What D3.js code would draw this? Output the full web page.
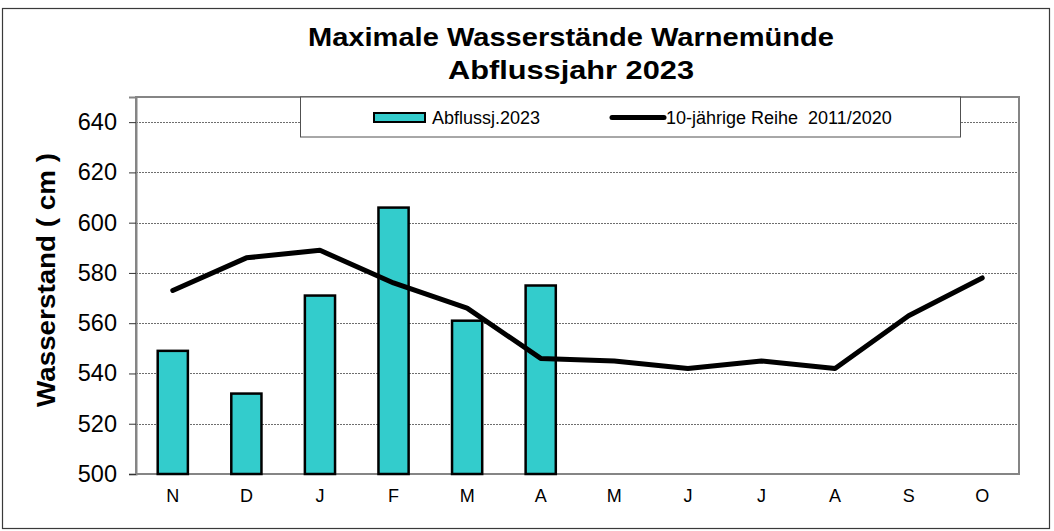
<!DOCTYPE html>
<html>
<head>
<meta charset="utf-8">
<script src="https://cdn.jsdelivr.net/npm/d3@7"></script>
<style>
  body { margin: 0; background: #fff; }
  svg { display: block; font-family: Arial, "Liberation Sans", sans-serif; }
</style>
</head>
<body>
<svg id="chart" width="1054" height="531"></svg>
<script>
// months of the hydrological year (Nov - Oct)
const months = ['N', 'D', 'J', 'F', 'M', 'A', 'M', 'J', 'J', 'A', 'S', 'O'];
const monthKeys = months.map((m, i) => i + '_' + m);
// max water level 2023 (only Nov - Apr available)
const values2023 = [549, 532, 571, 606, 561, 575];
// 10-year series 2011/2020
const values10y = [573, 586, 589, 576, 566, 546, 545, 542, 545, 542, 563, 578];
const yTicks = [500, 520, 540, 560, 580, 600, 620, 640];

const titleLines = ['Maximale Wasserstände Warnemünde', 'Abflussjahr 2023'];
const yLabel = 'Wasserstand ( cm )';
const legendBars = 'Abflussj.2023';
const legendLine = '10-jährige Reihe  2011/2020';

const svg = d3.select('#chart');
const plot = { left: 136, top: 97, right: 1019, bottom: 474 };

// outer frame
svg.append('rect')
    .attr('x', 2.5).attr('y', 8.5)
    .attr('width', 1047).attr('height', 520)
    .attr('fill', '#fff')
    .attr('stroke', '#3a3a3a')
    .attr('stroke-width', 1.2);

const x = d3.scaleBand()
    .domain(monthKeys)
    .range([plot.left, plot.right])
    .paddingInner(0.59)
    .paddingOuter(0.295);

const y = d3.scaleLinear()
    .domain([500, 650])
    .range([plot.bottom, plot.top]);

// grid lines
svg.append('g')
    .selectAll('line')
    .data(yTicks.filter(v => v > 500))
    .join('line')
    .attr('x1', plot.left).attr('x2', plot.right)
    .attr('y1', d => Math.round(y(d)) + 0.5)
    .attr('y2', d => Math.round(y(d)) + 0.5)
    .attr('stroke', '#6e6e6e')
    .attr('stroke-width', 1)
    .attr('stroke-dasharray', '2,1');

// plot frame
svg.append('rect')
    .attr('x', plot.left).attr('y', plot.top)
    .attr('width', plot.right - plot.left)
    .attr('height', plot.bottom - plot.top)
    .attr('fill', 'none')
    .attr('stroke', '#858585')
    .attr('stroke-width', 2);

// legend box (covers grid)
const legend = svg.append('g');
legend.append('rect')
    .attr('x', 300.5).attr('y', 97)
    .attr('width', 660).attr('height', 40)
    .attr('fill', '#fff')
    .attr('stroke', '#505050')
    .attr('stroke-width', 1);
legend.append('rect')
    .attr('x', 374).attr('y', 113)
    .attr('width', 51).attr('height', 9)
    .attr('fill', '#33cccc')
    .attr('stroke', '#000')
    .attr('stroke-width', 2);
legend.append('text')
    .attr('x', 432).attr('y', 123.5)
    .attr('font-size', 18)
    .text(legendBars);
legend.append('line')
    .attr('x1', 612).attr('x2', 664)
    .attr('y1', 117.5).attr('y2', 117.5)
    .attr('stroke', '#000')
    .attr('stroke-width', 5)
    .attr('stroke-linecap', 'round');
legend.append('text')
    .attr('x', 666).attr('y', 123.5)
    .attr('font-size', 18)
    .style('white-space', 'pre')
    .text(legendLine);

// bars
svg.append('g')
    .selectAll('rect')
    .data(values2023)
    .join('rect')
    .attr('x', (d, i) => x(monthKeys[i]))
    .attr('y', d => y(d))
    .attr('width', x.bandwidth())
    .attr('height', d => y(500) - y(d))
    .attr('fill', '#33cccc')
    .attr('stroke', '#000')
    .attr('stroke-width', 2.5);

// 10-year line
const line = d3.line()
    .x((d, i) => x(monthKeys[i]) + x.bandwidth() / 2)
    .y(d => y(d));
svg.append('path')
    .datum(values10y)
    .attr('d', line)
    .attr('fill', 'none')
    .attr('stroke', '#000')
    .attr('stroke-width', 5)
    .attr('stroke-linejoin', 'round')
    .attr('stroke-linecap', 'round');

// y axis
const yAxis = svg.append('g')
    .attr('transform', `translate(${plot.left},0)`)
    .call(d3.axisLeft(y).tickValues(yTicks).tickSize(7).tickPadding(12));
yAxis.select('.domain').attr('stroke', '#858585').attr('stroke-width', 2);
yAxis.selectAll('.tick line').attr('stroke', '#333');
yAxis.selectAll('.tick text')
    .attr('font-size', 23.5)
    .attr('font-family', 'Arial, "Liberation Sans", sans-serif')
    .attr('fill', '#000');

// x axis labels
const xAxis = svg.append('g')
    .attr('transform', `translate(0,${plot.bottom})`)
    .call(d3.axisBottom(x).tickSize(0).tickPadding(15).tickFormat(k => k.split('_')[1]));
xAxis.select('.domain').remove();
xAxis.selectAll('.tick text')
    .attr('font-size', 18)
    .attr('font-family', 'Arial, "Liberation Sans", sans-serif')
    .attr('fill', '#000');

// title (the original type is a little wider than Arial)
const titleWidths = [526, 246];
svg.append('text')
    .attr('text-anchor', 'middle')
    .attr('font-weight', 'bold')
    .attr('font-size', 26)
    .selectAll('tspan')
    .data(titleLines)
    .join('tspan')
    .attr('x', 571)
    .attr('y', (d, i) => 46 + i * 32.5)
    .attr('textLength', (d, i) => titleWidths[i])
    .attr('lengthAdjust', 'spacingAndGlyphs')
    .text(d => d);

// y axis title
svg.append('text')
    .attr('transform', 'translate(55,280) rotate(-90)')
    .attr('text-anchor', 'middle')
    .attr('font-weight', 'bold')
    .attr('font-size', 26)
    .attr('textLength', 254)
    .attr('lengthAdjust', 'spacingAndGlyphs')
    .text(yLabel);
</script>
</body>
</html>
